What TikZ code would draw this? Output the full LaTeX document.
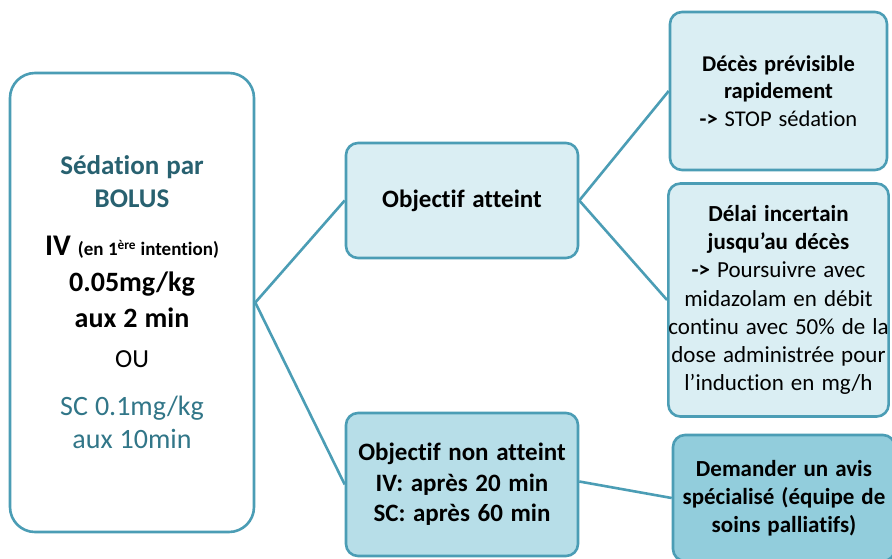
\documentclass[tikz,border=0pt]{standalone}
\usepackage{fontspec}
\setmainfont{Carlito}[Ligatures={NoCommon},WordSpace=1.35]
\usepackage{tikz}
\usetikzlibrary{positioning}
\definecolor{boxline}{RGB}{75,157,181}
\definecolor{filllight}{RGB}{218,238,243}
\definecolor{fillmid}{RGB}{183,222,232}
\definecolor{filldark}{RGB}{146,205,220}
\definecolor{tealdark}{RGB}{40,97,112}
\definecolor{tealmid}{RGB}{49,118,136}
\tikzset{
  box/.style={draw=boxline,line width=2.6pt,rounded corners=12pt,align=center,inner sep=0pt},
  link/.style={draw=boxline,line width=2.6pt}
}

\begin{document}
\begin{tikzpicture}[x=1pt,y=-1pt]
                   \clip (0,0) rectangle (892,558);
                   \fill[white] (0,0) rectangle (892,558);
                   \node[box,rounded corners=25pt,fill=white,minimum width=244pt,minimum height=459pt,text width=244pt] (bolus) at (132,302.5) {%
                     \spaceskip=7pt
                     \color{tealdark}\bfseries\fontsize{27}{33}\selectfont Sédation par\\BOLUS\par
                     \vspace{12pt}
                     \color{black}\fontsize{28}{36}\selectfont{\fontsize{30}{36}\selectfont IV} {\fontsize{19}{20}\selectfont(en\hspace{4.5pt}1\textsuperscript{ère}\hspace{4.5pt}intention)}\\
                     0.05mg/kg\\aux 2 min\par
                     \mdseries\fontsize{26}{40}\selectfont OU\par
                     \vspace{15pt}
                     \color{tealmid}\fontsize{28}{33}\selectfont SC 0.1mg/kg\\aux 10min\par};
                   \node[box,fill=filllight,minimum width=232pt,minimum height=115pt,font=\bfseries\fontsize{25}{30}\selectfont] (ok) at (462,200.5) {Objectif atteint};
                   \node[box,fill=fillmid,minimum width=232pt,minimum height=143pt,font=\bfseries\fontsize{25}{30.5}\selectfont] (nok) at (462,484.5) {Objectif non atteint\\IV: après 20 min\\SC: après 60 min};
                   \node[box,fill=filllight,minimum width=217pt,minimum height=158pt,font=\fontsize{22.5}{27.5}\selectfont] (deces) at (778.5,91) {\textbf{Décès prévisible}\\\textbf{rapidement}\\\textbf{->} STOP sédation};
                   \node[box,fill=filllight,minimum width=217pt,minimum height=233pt,font=\fontsize{23}{28.2}\selectfont] (delai) at (778.5,300) {\textbf{Délai incertain}\\\textbf{jusqu’au décès}\\\textbf{->} Poursuivre avec\\midazolam en débit\\continu avec 50\% de la\\dose administrée pour\\l’induction en mg/h};
                   \node[box,fill=filldark,minimum width=222pt,minimum height=126pt,font=\bfseries\fontsize{23}{28}\selectfont] (avis) at (784,498) {Demander un avis\\spécialisé (équipe de\\soins palliatifs)};
                    \path[link]
                    (bolus.east) edge (ok.west)
                                 edge (nok.west)
                    (ok.east) edge (deces.west)
                              edge (delai.west)
                    ([yshift=3pt]nok.east) edge (avis.west);
                \end{tikzpicture}
\end{document}
